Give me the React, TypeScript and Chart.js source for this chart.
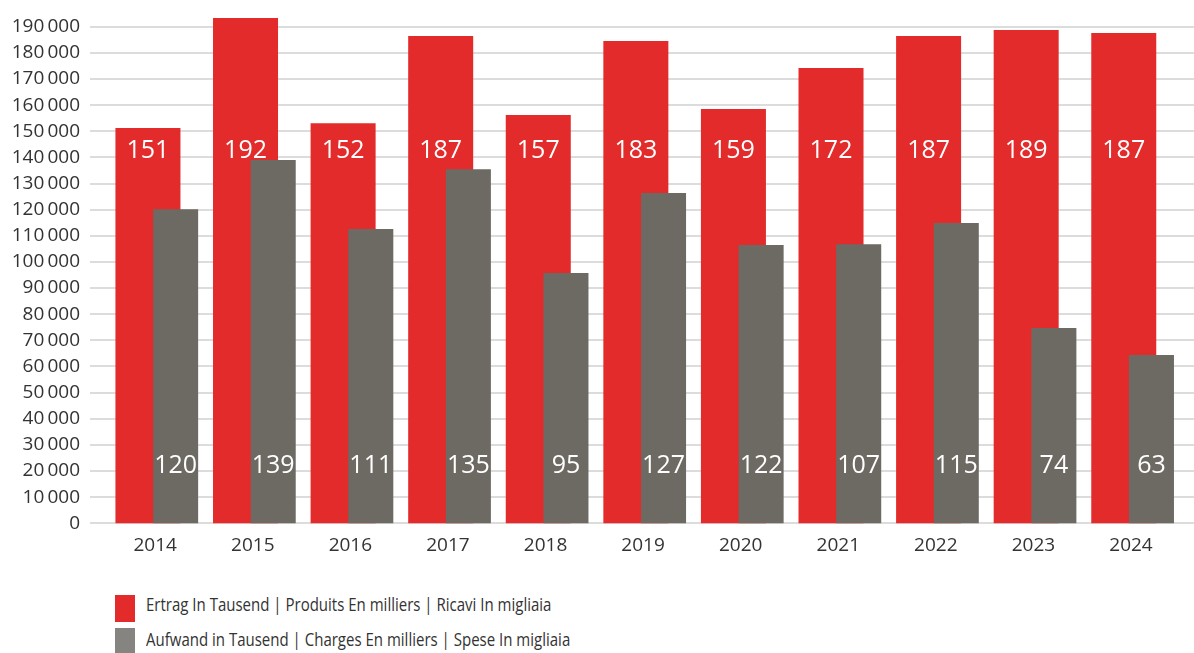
import React, { useEffect, useRef } from "react";
import { Chart, registerables } from "chart.js";

Chart.register(...registerables);

const years = ["2014", "2015", "2016", "2017", "2018", "2019", "2020", "2021", "2022", "2023", "2024"];
const revenue = [151200, 193300, 153100, 186400, 156200, 184500, 158500, 174200, 186400, 188700, 187600];
const expenses = [120200, 139000, 112600, 135500, 95800, 126400, 106500, 106800, 114900, 74700, 64400];
const revenueLabels = ["151", "192", "152", "187", "157", "183", "159", "172", "187", "189", "187"];
const expenseLabels = ["120", "139", "111", "135", "95", "127", "122", "107", "115", "74", "63"];
const legendLabels = [
  "Ertrag In Tausend | Produits En milliers | Ricavi In migliaia",
  "Aufwand in Tausend | Charges En milliers | Spese In migliaia",
];

const RED = "#e32b2b";
const GRAY = "#6d6a63";
const LEGEND_GRAY = "#858480";
const TEXT = "#333333";
const FONT = '"Open Sans", "Noto Sans", sans-serif';

const fmt = (v: number) => {
  const s = String(Math.round(v));
  return s.replace(/\B(?=(\d{3})+(?!\d))/g, "\u2009");
};

const gridPlugin = {
  id: "fullGrid",
  beforeDatasetsDraw(chart: any) {
    const { ctx } = chart;
    const y = chart.scales.y;
    ctx.save();
    ctx.strokeStyle = "#dcdcdc";
    ctx.lineWidth = 2;
    y.ticks.forEach((t: any) => {
      const py = Math.round(y.getPixelForValue(t.value));
      ctx.beginPath();
      ctx.moveTo(90, py);
      ctx.lineTo(chart.width, py);
      ctx.stroke();
    });
    ctx.restore();
  },
};

// draw revenue bars first so expense bars overlap them
const drawOrderPlugin = {
  id: "drawOrder",
  beforeDatasetDraw(chart: any, args: any) {
    if (args.index === 0) return false;
    if (args.index === 1) {
      chart.getDatasetMeta(0).controller.draw();
    }
    return true;
  },
};

const valueLabelPlugin = {
  id: "valueLabels",
  afterDatasetsDraw(chart: any) {
    const { ctx } = chart;
    const y = chart.scales.y;
    const sets = [
      { idx: 0, labels: revenueLabels, at: 139700 },
      { idx: 1, labels: expenseLabels, at: 19200 },
    ];
    ctx.save();
    ctx.font = `25px ${FONT}`;
    ctx.fillStyle = "#ffffff";
    ctx.textAlign = "center";
    ctx.textBaseline = "alphabetic";
    sets.forEach((s) => {
      const meta = chart.getDatasetMeta(s.idx);
      meta.data.forEach((bar: any, i: number) => {
        ctx.fillText(s.labels[i], bar.x, y.getPixelForValue(s.at));
      });
    });
    ctx.restore();
  },
};

export default function App() {
  const ref = useRef<HTMLCanvasElement>(null);

  useEffect(() => {
    document.body.style.margin = "0";
    const chart = new Chart(ref.current as HTMLCanvasElement, {
      type: "bar",
      data: {
        labels: years,
        datasets: [
          {
            label: legendLabels[0],
            data: revenue,
            backgroundColor: RED,
            categoryPercentage: 0.5677,
            barPercentage: 2.347,
            clip: false,
          } as any,
          {
            label: legendLabels[1],
            data: expenses,
            backgroundColor: GRAY,
            categoryPercentage: 0.5677,
            barPercentage: 1.625,
            clip: false,
          } as any,
        ],
      },
      options: {
        animation: false,
        responsive: false,
        maintainAspectRatio: false,
        layout: { padding: { top: 26.7, right: 7.6, left: 0, bottom: 0 } },
        plugins: {
          legend: { display: false },
          tooltip: { enabled: false },
        },
        scales: {
          x: {
            grid: { display: false, drawTicks: false },
            border: { display: false },
            ticks: {
              color: TEXT,
              font: { family: FONT, size: 19 },
              padding: 11,
              labelOffset: -6.6,
              maxRotation: 0,
            },
            afterFit: (s: any) => {
              s.height = 56.7;
            },
          },
          y: {
            min: 0,
            max: 190000,
            grid: { display: false, drawTicks: false },
            border: { display: false },
            ticks: {
              stepSize: 10000,
              autoSkip: false,
              color: TEXT,
              font: { family: FONT, size: 19 },
              padding: 33,
              callback: (v: any) => fmt(Number(v)),
            },
            afterFit: (s: any) => {
              s.width = 113;
              s.paddingTop = 11;
              s.paddingBottom = 11;
            },
          },
        },
      },
      plugins: [gridPlugin, drawOrderPlugin, valueLabelPlugin],
    });
    return () => chart.destroy();
  }, []);

  const rowStyle = (top: number): React.CSSProperties => ({
    position: "absolute",
    left: 146,
    top,
    fontFamily: FONT,
    fontSize: 19,
    lineHeight: "27px",
    color: TEXT,
    whiteSpace: "nowrap",
    transform: "scaleX(0.79)",
    transformOrigin: "0 50%",
  });

  return (
    <div style={{ position: "relative", width: 1194, height: 653, overflow: "hidden", background: "#fff" }}>
      <canvas ref={ref} width={1194} height={580} style={{ display: "block", width: 1194, height: 580 }} />
      <div style={{ position: "absolute", left: 115, top: 595, width: 20, height: 27, background: RED }} />
      <div style={rowStyle(591.4)}>{legendLabels[0]}</div>
      <div style={{ position: "absolute", left: 115, top: 628, width: 20, height: 27, background: LEGEND_GRAY }} />
      <div style={rowStyle(626.4)}>{legendLabels[1]}</div>
    </div>
  );
}
